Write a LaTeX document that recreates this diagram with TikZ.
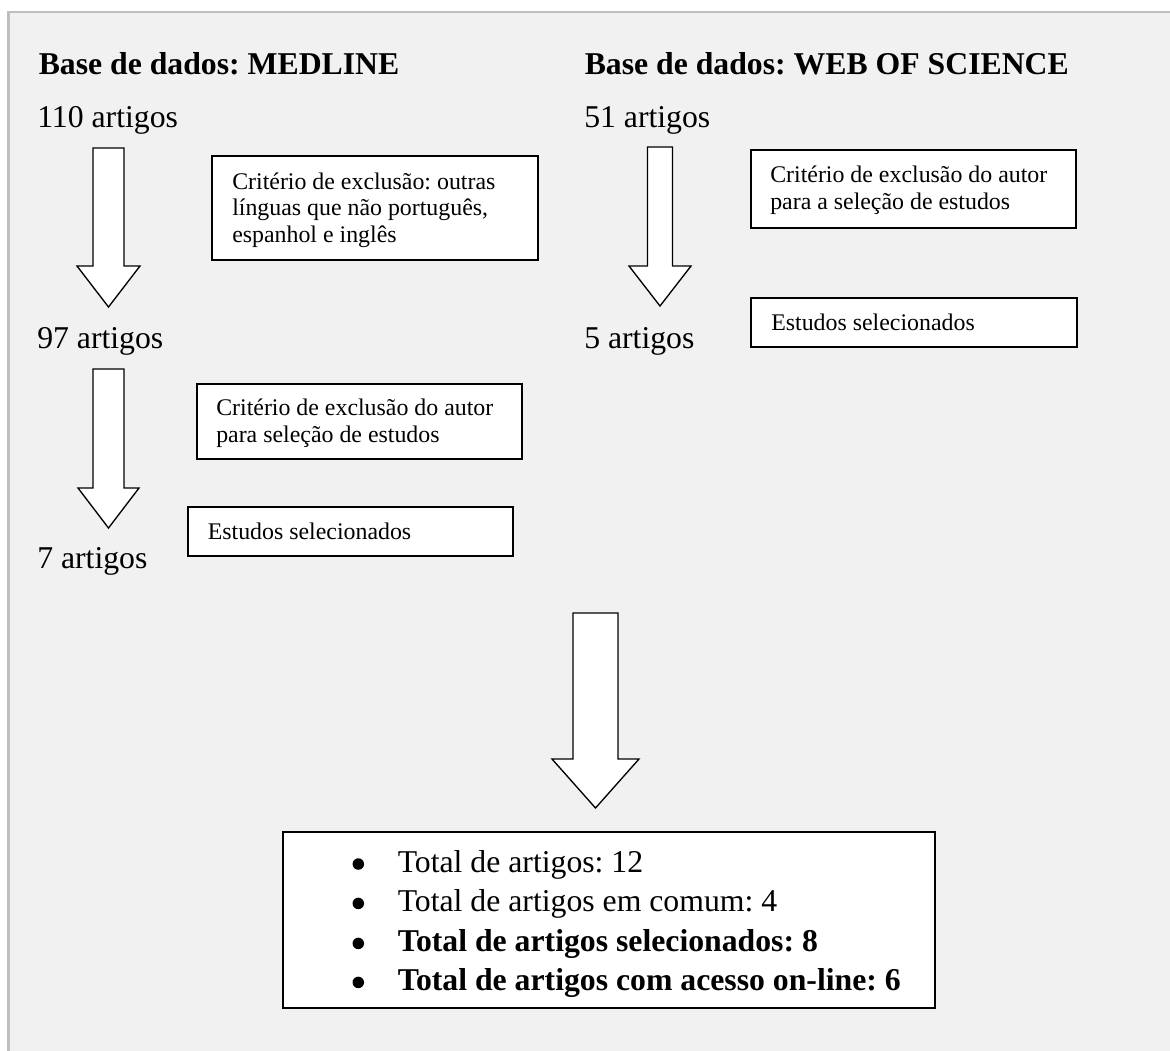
\documentclass[tikz,border=0pt]{standalone}
\usepackage{fontspec}
\setmainfont{Liberation Serif}
\frenchspacing
\definecolor{panel}{HTML}{F1F1F1}
\definecolor{framegray}{HTML}{BFBFBF}
\tikzset{
  big/.style={font=\fontsize{23.8}{28}\selectfont, inner sep=0pt, anchor=base west},
  bigb/.style={font=\fontsize{23.8}{28}\selectfont\bfseries, inner sep=0pt, anchor=base west},
  small/.style={font=\fontsize{17.9}{21}\selectfont, inner sep=0pt, anchor=base west},
  dot/.style={circle, fill=black, inner sep=0pt, minimum size={11.5*0.75pt}},
  box/.style={draw=black, fill=white, line width=1.15pt, inner sep=0pt, anchor=north west},
  arrowshape/.style={draw=black, fill=white, line width=1pt, line join=miter},
}
% block arrow: centre x, top y, head-start y, tip y, half shaft, half head
\newcommand{\blkarrow}[6]{%
  \draw[arrowshape] (#1-#5,#2) -- (#1+#5,#2) -- (#1+#5,#3) -- (#1+#6,#3)
    -- (#1,#4) -- (#1-#6,#3) -- (#1-#5,#3) -- cycle;}
\begin{document}
\begin{tikzpicture}[x=0.75pt,y=-0.75pt]
  \useasboundingbox (0,0) rectangle (1170,1050);
  \fill[white] (0,0) rectangle (1170,1050);
  \fill[panel] (8.7,12.2) rectangle (1180,1060);
  \draw[framegray, line width=1.9pt] (8.7,1060) -- (8.7,12.2) -- (1180,12.2);

  % headings
  \node[bigb] (hmed) at (38.5,74) {Base de dados: MEDLINE};
  \node[bigb] (hwos) at (584.5,74) {Base de dados: WEB OF SCIENCE};

  % left column counts
  \node[big] (m110) at (37,127) {110 artigos};
  \node[big] (m97) at (37,348.3) {97 artigos};
  \node[big] (m7) at (37,568.3) {7 artigos};
  % right column counts
  \node[big] (w51) at (584,127) {51 artigos};
  \node[big] (w5) at (584,348.3) {5 artigos};

  % block arrows
  \blkarrow{108.5}{148}{266}{307}{15.5}{31.5}
  \blkarrow{108.5}{369}{488}{528}{15.5}{30.5}
  \blkarrow{660}{147}{266}{306}{12.5}{31}
  \blkarrow{595.5}{613}{759}{808}{22.5}{43.5}

  % boxes, MEDLINE
  \node[box, minimum width={326*0.75pt}, minimum height={104*0.75pt}] (b1) at (211,155) {};
  \node[small] (b1a) at (232,189.3) {Critério de exclusão: outras};
  \node[small] (b1b) at (232,215.8) {línguas que não português,};
  \node[small] (b1c) at (232,242.2) {espanhol e inglês};

  \node[box, minimum width={325*0.75pt}, minimum height={75*0.75pt}] (b2) at (196,383) {};
  \node[small] (b2a) at (216,415.7) {Critério de exclusão do autor};
  \node[small] (b2b) at (216,442.3) {para seleção de estudos};

  \node[box, minimum width={325*0.75pt}, minimum height={49*0.75pt}] (b3) at (187,506) {};
  \node[small] (b3a) at (207.5,539) {Estudos selecionados};

  % boxes, WEB OF SCIENCE
  \node[box, minimum width={325*0.75pt}, minimum height={78*0.75pt}] (r1) at (750,149) {};
  \node[small] (r1a) at (770,182.3) {Critério de exclusão do autor};
  \node[small] (r1b) at (770,209) {para a seleção de estudos};

  \node[box, minimum width={326*0.75pt}, minimum height={49*0.75pt}] (r2) at (750,297) {};
  \node[small] (r2a) at (771,330) {Estudos selecionados};

  % summary box
  \node[box, minimum width={652*0.75pt}, minimum height={176*0.75pt}] (sum) at (282,831) {};
  \node[dot] (s1d) at (358.3,864) {};
  \node[big] (s1) at (397.5,872.3) {Total de artigos: 12};
  \node[dot] (s2d) at (358.3,903.4) {};
  \node[big] (s2) at (397.5,911.7) {Total de artigos em comum: 4};
  \node[dot] (s3d) at (358.3,943.4) {};
  \node[bigb] (s3) at (397.5,951.7) {Total de artigos selecionados: 8};
  \node[dot] (s4d) at (358.3,982.4) {};
  \node[bigb] (s4) at (397.5,990.7) {Total de artigos com acesso on-line: 6};
\end{tikzpicture}
\end{document}
